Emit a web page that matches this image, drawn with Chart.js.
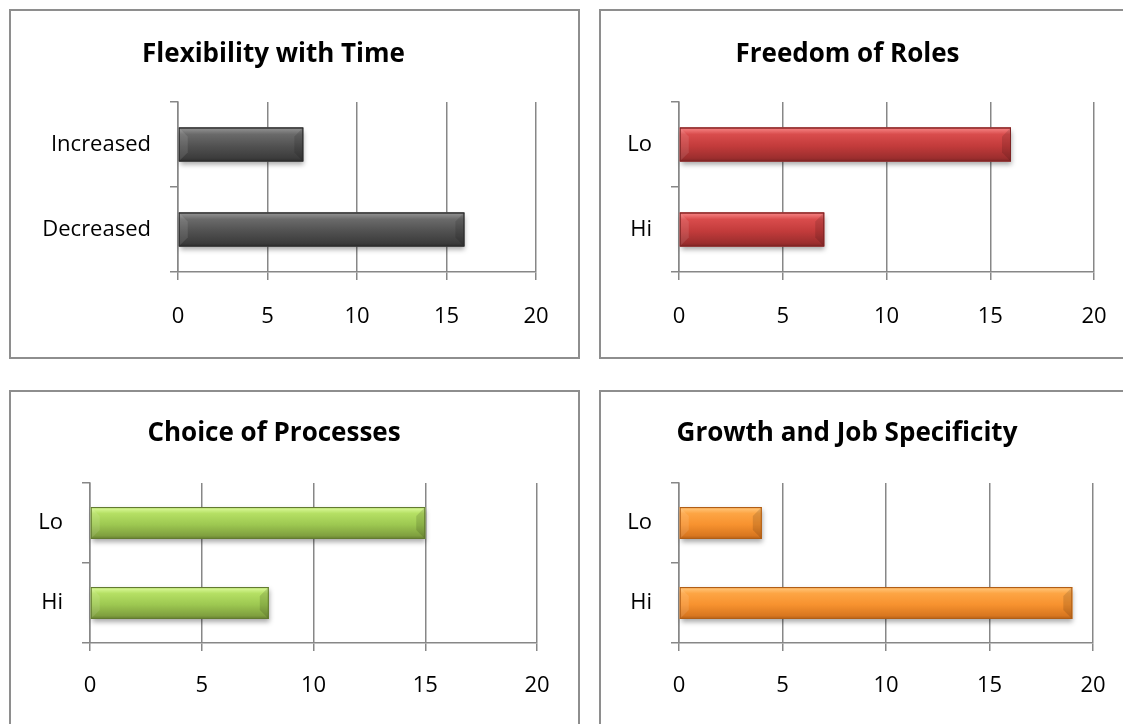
<!DOCTYPE html>
<html>
<head>
<meta charset="utf-8">
<script src="https://cdn.jsdelivr.net/npm/chart.js@4/dist/chart.umd.min.js"></script>
<style>
  html, body { margin: 0; padding: 0; background: #fff; }
  body { width: 1123px; height: 724px; position: relative; overflow: hidden; }
  .panel { position: absolute; border: 2px solid #8e8e8e; box-sizing: border-box; width: 571px; height: 350px; }
  .panel canvas { display: block; }
  #p1 { left: 9px; top: 9px; }
  #p2 { left: 599px; top: 9px; width: 540px; }
  #p3 { left: 9px; top: 390px; }
  #p4 { left: 599px; top: 390px; width: 540px; }
</style>
</head>
<body>
<div class="panel" id="p1"><canvas id="c1"></canvas></div>
<div class="panel" id="p2"><canvas id="c2"></canvas></div>
<div class="panel" id="p3"><canvas id="c3"></canvas></div>
<div class="panel" id="p4"><canvas id="c4"></canvas></div>
<script>
// data
const flexLabels = ['Increased', 'Decreased'];
const flexValues = [7, 16];
const rolesLabels = ['Lo', 'Hi'];
const rolesValues = [16, 7];
const procLabels = ['Lo', 'Hi'];
const procValues = [15, 8];
const growthLabels = ['Lo', 'Hi'];
const growthValues = [4, 19];
const xTicks = [0, 5, 10, 15, 20];

const FONT = "'Open Sans', 'DejaVu Sans', sans-serif";
const GRID = '#878787';
const TITLE_SIZE = 26;
const TICK_SIZE = 22;

// bevel look for the bars
const bevel = {
  id: 'bevel',
  beforeDatasetsDraw(chart) {
    const ctx = chart.ctx;
    chart.getDatasetMeta(0).data.forEach(bar => {
      const p = bar.getProps(['x', 'y', 'base', 'height'], true);
      ctx.save();
      ctx.shadowColor = 'rgba(0,0,0,0.35)';
      ctx.shadowBlur = 5;
      ctx.shadowOffsetY = 3;
      ctx.shadowOffsetX = 1;
      ctx.fillStyle = '#fff';
      ctx.fillRect(p.base, p.y - p.height / 2, p.x - p.base, p.height);
      ctx.restore();
    });
  },
  afterDatasetsDraw(chart) {
    const ctx = chart.ctx;
    const c = chart.options.plugins.bevel;
    chart.getDatasetMeta(0).data.forEach(bar => {
      const p = bar.getProps(['x', 'y', 'base', 'height'], true);
      const l = p.base, r = p.x, t = p.y - p.height / 2, b = p.y + p.height / 2;
      const g = ctx.createLinearGradient(0, t, 0, b);
      g.addColorStop(0, c.edge);
      g.addColorStop(0.06, c.light);
      g.addColorStop(0.2, c.mid1);
      g.addColorStop(0.55, c.base);
      g.addColorStop(0.9, c.dark);
      g.addColorStop(1, c.darker);
      ctx.save();
      ctx.fillStyle = g;
      ctx.fillRect(l, t, r - l, b - t);
      const k = 9;
      // left bevel
      ctx.fillStyle = 'rgba(255,255,255,0.10)';
      ctx.beginPath();
      ctx.moveTo(l, t); ctx.lineTo(l + k, t + k); ctx.lineTo(l + k, b - k); ctx.lineTo(l, b);
      ctx.closePath(); ctx.fill();
      // right bevel
      ctx.fillStyle = 'rgba(0,0,0,0.12)';
      ctx.beginPath();
      ctx.moveTo(r, t); ctx.lineTo(r - k, t + k); ctx.lineTo(r - k, b - k); ctx.lineTo(r, b);
      ctx.closePath(); ctx.fill();
      ctx.strokeStyle = c.darker;
      ctx.lineWidth = 1;
      ctx.strokeRect(l + 0.5, t + 0.5, r - l - 1, b - t - 1);
      ctx.restore();
    });
  }
};

function makeChart(id, title, labels, values, colors, lay) {
  const canvas = document.getElementById(id);
  const box = canvas.parentElement;
  const w = box.clientWidth, h = box.clientHeight;
  canvas.width = w; canvas.height = h;
  canvas.style.width = w + 'px'; canvas.style.height = h + 'px';
  const half = TITLE_SIZE * 1.2 / 2;
  return new Chart(canvas, {
    type: 'bar',
    data: {
      labels: labels,
      datasets: [{ data: values, backgroundColor: colors.base, borderWidth: 0 }]
    },
    plugins: [bevel],
    options: {
      indexAxis: 'y',
      responsive: false,
      animation: false,
      events: [],
      layout: { padding: { left: 0, top: 0, bottom: 0, right: w - lay.right } },
      datasets: { bar: { categoryPercentage: 1, barPercentage: 0.4 } },
      plugins: {
        legend: { display: false },
        tooltip: { enabled: false },
        bevel: colors,
        title: {
          display: true,
          text: title,
          color: '#000',
          font: { family: FONT, size: TITLE_SIZE, weight: 'bold', lineHeight: 1.2 },
          padding: { top: lay.titleY - half, bottom: lay.top - lay.titleY - half }
        }
      },
      scales: {
        x: {
          min: 0, max: 20,
          afterBuildTicks: s => { s.ticks = xTicks.map(v => ({ value: v })); },
          afterFit: s => { s.height = h - lay.bottom; },
          ticks: { color: '#000', font: { family: FONT, size: TICK_SIZE }, padding: lay.labelGap },
          grid: { color: GRID, lineWidth: 1.5, tickLength: 8, drawTicks: true },
          border: { display: true, color: GRID, width: 1.5 }
        },
        y: {
          afterFit: s => { s.width = lay.left; },
          ticks: { color: '#000', font: { family: FONT, size: TICK_SIZE }, padding: 19 },
          grid: { offset: true, drawOnChartArea: false, color: GRID, lineWidth: 1.5, tickLength: 8 },
          border: { display: true, color: GRID, width: 1.5 }
        }
      }
    }
  });
}

const gray = { edge: '#4a4a4a', light: '#8a8a8a', mid1: '#6a6a6a', base: '#515151', dark: '#3c3c3c', darker: '#2c2c2c' };
const red = { edge: '#a83030', light: '#f07878', mid1: '#d94c4c', base: '#c23b3b', dark: '#9c2e2e', darker: '#7e2424' };
const green = { edge: '#8cb43e', light: '#d4f590', mid1: '#b5e064', base: '#9dc851', dark: '#7f9f3f', darker: '#627a30' };
const orange = { edge: '#e07a20', light: '#ffc070', mid1: '#fda544', base: '#f7922f', dark: '#d8761f', darker: '#b05e16' };

makeChart('c1', 'Flexibility with Time', flexLabels, flexValues, gray,
  { left: 167, right: 525, top: 91, bottom: 261, titleY: 44, labelGap: 24 });
makeChart('c2', 'Freedom of Roles', rolesLabels, rolesValues, red,
  { left: 78, right: 493, top: 91, bottom: 261, titleY: 44, labelGap: 24 });
makeChart('c3', 'Choice of Processes', procLabels, procValues, green,
  { left: 79, right: 526, top: 91, bottom: 251, titleY: 42, labelGap: 22 });
makeChart('c4', 'Growth and Job Specificity', growthLabels, growthValues, orange,
  { left: 78, right: 492, top: 91, bottom: 251, titleY: 42, labelGap: 22 });
</script>
</body>
</html>
